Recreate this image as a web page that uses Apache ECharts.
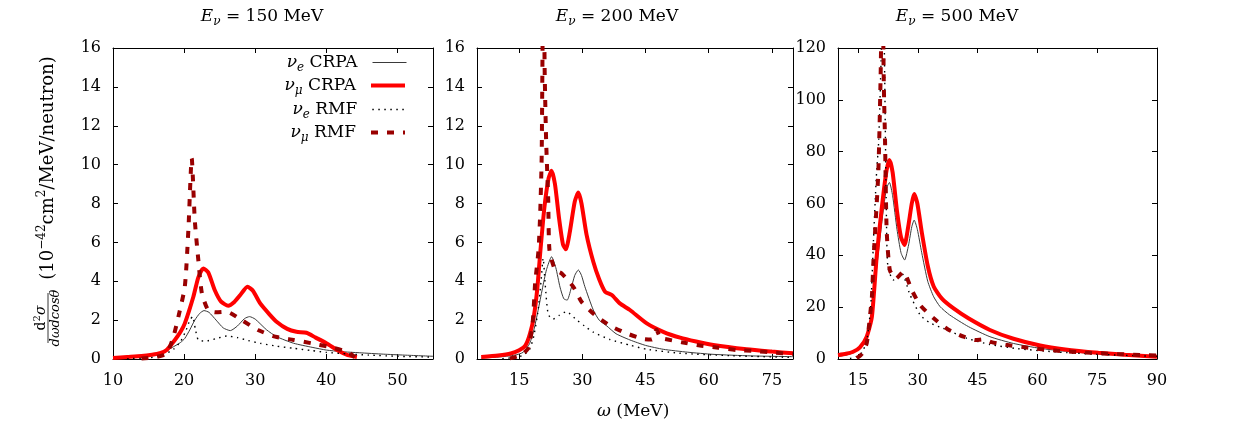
<!DOCTYPE html>
<html>
<head>
<meta charset="utf-8">
<script src="https://cdn.jsdelivr.net/npm/echarts@6/dist/echarts.min.js"></script>
<style>
html,body{margin:0;padding:0;background:#fff;}
#chart{width:1237px;height:435px;}
</style>
</head>
<body>
<div id="chart"></div>
<script>
// E_nu = 150 MeV  [omega (MeV), d2sigma]
var e150_eCRPA = [[10,0.08],[12,0.1],[14,0.15],[16,0.25],[17.5,0.45],[18.5,0.63],[19.5,0.85],[20.1,1.06],[20.8,1.5],[21.5,2.0],[22.2,2.35],[22.8,2.49],[23.5,2.4],[24.5,2.0],[25.5,1.6],[26.5,1.46],[27.5,1.7],[28.5,2.08],[29.2,2.18],[30,2.05],[31.6,1.5],[33,1.15],[35.4,0.81],[38,0.6],[40,0.46],[42,0.38],[44.7,0.32],[48,0.25],[51,0.2],[55,0.14]];
var e150_mCRPA = [[10,0.05],[12,0.1],[14,0.15],[15.5,0.22],[16.6,0.3],[17.5,0.45],[18.7,0.98],[19.5,1.4],[20.1,1.83],[21.3,3.2],[22,4.2],[22.7,4.66],[23.4,4.45],[24.3,3.55],[25.2,2.95],[26.2,2.74],[27.1,2.95],[27.9,3.29],[28.9,3.72],[29.7,3.5],[30.7,2.86],[32,2.3],[33,1.92],[34.5,1.55],[35.8,1.4],[37.2,1.35],[38.5,1.1],[40,0.81],[41.9,0.38],[43,0.2],[44.3,0.1]];
var e150_eRMF = [[12,0.02],[15,0.05],[17,0.2],[18.5,0.5],[19.5,0.9],[20.3,1.5],[20.8,2.0],[21.2,2.18],[21.6,1.5],[22,0.98],[23,0.92],[24.5,1.05],[26,1.18],[27.5,1.1],[29,0.95],[30.7,0.81],[33,0.66],[35.4,0.55],[38,0.43],[40,0.34],[43,0.26],[46,0.2],[50,0.14],[55,0.1]];
var e150_mRMF = [[14,0.02],[16,0.1],[17.55,0.29],[18.5,1.15],[19.2,2.18],[20.1,3.72],[20.6,6.64],[21.07,10.32],[21.5,7.15],[22,5.09],[22.5,3.38],[23.4,2.5],[24.5,2.4],[26,2.43],[28.1,2.0],[30.4,1.49],[32.8,1.15],[35.4,0.98],[37.9,0.81],[40.3,0.63],[42.9,0.38],[44,0.1]];

// E_nu = 200 MeV
var e200_eCRPA = [[6,0.05],[10,0.1],[14,0.2],[16,0.35],[17.5,0.8],[18.5,1.5],[19.5,2.5],[20.5,3.6],[21.5,4.6],[22.7,5.26],[23.7,4.7],[24.7,3.7],[25.6,3.1],[26.4,3.03],[27.3,3.6],[28.2,4.3],[29.05,4.58],[29.8,4.3],[30.6,3.72],[32.6,2.52],[34,2.0],[35.8,1.7],[38,1.3],[41.3,0.98],[45,0.7],[49.2,0.5],[55,0.35],[61,0.24],[70,0.16],[80,0.12]];
var e200_mCRPA = [[6,0.1],[10,0.18],[13,0.28],[15,0.45],[16.5,0.7],[17.6,1.32],[18.5,2.2],[19.3,3.6],[20,5.45],[21,7.8],[22,9.3],[22.7,9.69],[23.5,9.0],[24.5,7.2],[25.4,5.9],[26.1,5.64],[27,6.5],[28.2,8.1],[29.05,8.56],[29.8,8.0],[31,6.4],[32.6,5.0],[34,4.1],[35.4,3.46],[37,3.29],[38.9,2.86],[41.3,2.52],[45.3,1.83],[49.2,1.4],[53.2,1.1],[57,0.9],[61.1,0.72],[69,0.5],[75,0.38],[80,0.29]];
var e200_eRMF = [[11,0.02],[14,0.08],[16,0.2],[17.5,0.5],[18.5,1.2],[19.5,2.5],[20.2,4.0],[20.7,5.18],[21.2,3.8],[21.9,2.3],[23,2.05],[24.5,2.25],[26.2,2.43],[28.7,2.0],[30.5,1.7],[32.6,1.38],[36.6,1.0],[41.5,0.7],[45.3,0.5],[53,0.3],[65,0.17],[80,0.08]];
var e200_mRMF = [[12.8,0.03],[15.5,0.2],[17.2,0.57],[18.2,1.84],[18.8,3.9],[19.6,5.6],[20,7.5],[20.35,10.4],[20.8,22],[21.05,15],[21.4,11.3],[21.9,8.2],[22.2,5.6],[23.5,4.6],[25.1,4.4],[27.9,3.7],[29.8,2.95],[33,2.26],[36.6,1.71],[40.5,1.32],[44.5,1.03],[46.5,1.0],[47.6,1.5],[48.6,1.05],[49.6,1.03],[53.6,0.86],[57.9,0.69],[62.3,0.58],[66.6,0.46],[71,0.41],[75.3,0.33],[80,0.26]];

// E_nu = 500 MeV
var e500_eCRPA = [[10,1.0],[12,1.5],[14,2.5],[16,5],[17.2,8],[18.5,15],[19.7,35],[21.4,58],[22.2,66],[22.9,68.1],[23.7,63],[24.8,50],[25.8,41],[26.7,38.2],[27.7,44],[28.5,51],[29.1,53.6],[29.9,50],[31,41],[32.5,30],[34,24],[35.6,20.2],[38,17],[42.7,12.5],[48.1,8.6],[54,6],[60.7,4.1],[67,3],[75,2.0],[82,1.4],[90,0.9]];
var e500_mCRPA = [[10,1.5],[12,2.0],[13.8,2.8],[15.5,4.5],[17.2,8.6],[18.5,16.3],[19.7,39.5],[20.6,53],[21.4,63.9],[22.2,73],[22.9,76.8],[23.7,72],[24.8,57],[25.8,47],[26.7,44],[27.6,51],[28.5,60],[29.1,63.7],[29.9,60],[31,49],[32.5,36],[34,28],[36,23.4],[39,19.5],[42.7,15.7],[48.1,11.2],[54,7.8],[60.7,5.2],[67,3.7],[75.3,2.4],[82,1.6],[90,0.9]];
var e500_eRMF = [[13,0.2],[14.5,0.8],[16,2.5],[17.2,7],[18.2,20],[18.9,45.9],[19.6,70],[20.2,84],[20.8,115],[21.3,150],[21.7,110],[22.1,60],[22.5,35.6],[23.9,30.5],[26,33],[28,25],[30.6,17],[33,14],[36.4,11.8],[42.3,8.0],[48.1,5.6],[55,4.0],[65,2.7],[75,1.8],[90,1.0]];
var e500_mRMF = [[14.7,0.3],[16,2],[17.2,6],[18,16.3],[18.5,24],[18.9,38.2],[20.1,71.5],[20.7,110],[21.1,150],[21.5,105],[21.8,84],[22.2,49.8],[23,34.3],[24.5,31],[26.4,33.7],[28.5,26.6],[30.6,20.8],[34,15.7],[37.5,11.5],[41.5,8.6],[44.5,7.3],[46.5,7.6],[48.5,6.5],[52,5.5],[58.5,4.2],[65,3.2],[72,2.5],[80,1.9],[86.5,1.5],[90,1.3]];

var energies = ['150', '200', '500'];
var xRanges = [[10, 55], [5, 80], [10, 90]];
var xTicks = [[10, 20, 30, 40, 50], [15, 30, 45, 60, 75], [15, 30, 45, 60, 75, 90]];
var yMax = [16, 16, 120];
var yStep = [2, 2, 20];
var names = ['νe CRPA', 'νμ CRPA', 'νe RMF', 'νμ RMF'];
var panels = [
  [e150_eCRPA, e150_mCRPA, e150_eRMF, e150_mRMF],
  [e200_eCRPA, e200_mCRPA, e200_eRMF, e200_mRMF],
  [e500_eCRPA, e500_mCRPA, e500_eRMF, e500_mRMF]
];

var FONT = 'DejaVu Serif';
var grids = [
  {left: 113, top: 48, width: 320, height: 311},
  {left: 477, top: 48, width: 316, height: 311},
  {left: 838, top: 48, width: 319, height: 311}
];
var titleX = [262, 617, 957];
var lineStyles = [
  {color: '#3a3a3a', width: 1, type: 'solid'},
  {color: '#ff0000', width: 4, type: 'solid'},
  {color: '#000000', width: 1.4, type: [1.5, 4.5]},
  {color: '#990000', width: 4, type: [7, 9]}
];

var rich = {
  n: {fontFamily: FONT, fontSize: 17, fontWeight: 'normal', color: '#000', lineHeight: 22, verticalAlign: 'middle'},
  i: {fontFamily: FONT, fontSize: 17, fontWeight: 'normal', color: '#000', fontStyle: 'italic', lineHeight: 22, verticalAlign: 'middle'},
  s: {fontFamily: FONT, fontSize: 12, fontWeight: 'normal', color: '#000', fontStyle: 'italic', lineHeight: 22, verticalAlign: 'bottom'}
};

var xAxes = [], yAxes = [], series = [], titles = [], legends = [];
var axisLine = {show: true, onZero: false, lineStyle: {color: '#000', width: 1}};

for (var p = 0; p < 3; p++) {
  xAxes.push({
    type: 'value', gridIndex: p, position: 'bottom', min: xRanges[p][0], max: xRanges[p][1],
    axisLine: axisLine,
    axisTick: {show: true, inside: true, length: 5, lineStyle: {color: '#000'}, customValues: xTicks[p]},
    axisLabel: {fontFamily: FONT, fontSize: 16, color: '#000', margin: 14, customValues: xTicks[p]},
    splitLine: {show: false}
  });
  xAxes.push({
    type: 'value', gridIndex: p, position: 'top', min: xRanges[p][0], max: xRanges[p][1],
    axisLine: axisLine,
    axisTick: {show: true, inside: true, length: 5, lineStyle: {color: '#000'}, customValues: xTicks[p]},
    axisLabel: {show: false},
    splitLine: {show: false}
  });
  yAxes.push({
    type: 'value', gridIndex: p, position: 'left', min: 0, max: yMax[p], interval: yStep[p],
    axisLine: axisLine,
    axisTick: {show: true, inside: true, length: 5, lineStyle: {color: '#000'}},
    axisLabel: {fontFamily: FONT, fontSize: 16, color: '#000', margin: 12},
    splitLine: {show: false}
  });
  yAxes.push({
    type: 'value', gridIndex: p, position: 'right', min: 0, max: yMax[p], interval: yStep[p],
    axisLine: axisLine,
    axisTick: {show: true, inside: true, length: 5, lineStyle: {color: '#000'}},
    axisLabel: {show: false},
    splitLine: {show: false}
  });
  for (var k = 0; k < 4; k++) {
    series.push({
      name: names[k], type: 'line', xAxisIndex: p * 2, yAxisIndex: p * 2,
      data: panels[p][k], symbol: 'none', smooth: 0.2, clip: true,
      lineStyle: lineStyles[k], itemStyle: {color: lineStyles[k].color}
    });
  }
  titles.push({
    text: '{i|E}{s|ν}{n| = ' + energies[p] + ' MeV}',
    left: titleX[p], top: 6, textAlign: 'center', padding: 0,
    textStyle: {fontWeight: 'normal', rich: rich}
  });
}

var legendRows = [65, 88, 112, 135];
for (var k = 0; k < 4; k++) {
  legends.push({
    data: [names[k]], right: 830, top: legendRows[k] - 11, padding: 0,
    align: 'right', itemWidth: 34, itemHeight: 14, selectedMode: false,
    itemStyle: {color: 'rgba(0,0,0,0)', borderWidth: 0, opacity: 0},
    lineStyle: {width: lineStyles[k].width, color: lineStyles[k].color, type: lineStyles[k].type},
    formatter: function (name) {
      var parts = name.split(' ');
      return '{i|ν}{s|' + parts[0].slice(1) + '}{n| ' + parts[1] + '}';
    },
    textStyle: {padding: [0, 10, 0, 0], rich: rich}
  });
}

var chart = echarts.init(document.getElementById('chart'));
chart.setOption({
  animation: false,
  backgroundColor: '#fff',
  title: titles,
  legend: legends,
  grid: grids,
  xAxis: xAxes,
  yAxis: yAxes,
  series: series,
  graphic: [
    {
      type: 'text', left: 597, top: 403,
      style: {text: '{i|ω}{n| (MeV)}', rich: rich}
    },
    {
      type: 'group', x: 48, y: 198, rotation: Math.PI / 2,
      children: [
        {type: 'text', x: -120, y: -8, style: {
          text: '{n|d}{sup|2}{i|σ}', align: 'center', verticalAlign: 'middle',
          rich: {
            n: {fontFamily: FONT, fontSize: 14, color: '#000', lineHeight: 16, verticalAlign: 'bottom'},
            i: {fontFamily: FONT, fontSize: 14, fontStyle: 'italic', color: '#000', lineHeight: 16, verticalAlign: 'bottom'},
            sup: {fontFamily: FONT, fontSize: 10, color: '#000', lineHeight: 16, verticalAlign: 'top'}
          }
        }},
        {type: 'line', shape: {x1: -145, y1: 0, x2: -95, y2: 0}, style: {stroke: '#000', lineWidth: 0.8}},
        {type: 'text', x: -120, y: 8, style: {text: 'dωdcosθ', font: 'italic 13px "DejaVu Serif"', fill: '#000', align: 'center', verticalAlign: 'middle'}},
        {type: 'text', x: 30, y: 0, style: {
          text: '{n|(10}{sup|−42}{n|cm}{sup|2}{n|/MeV/neutron)}', align: 'center', verticalAlign: 'middle',
          rich: {
            n: {fontFamily: FONT, fontSize: 18, color: '#000', lineHeight: 24, verticalAlign: 'middle'},
            sup: {fontFamily: FONT, fontSize: 12, color: '#000', lineHeight: 24, verticalAlign: 'top'}
          }
        }}
      ]
    }
  ]
});
</script>
</body>
</html>
